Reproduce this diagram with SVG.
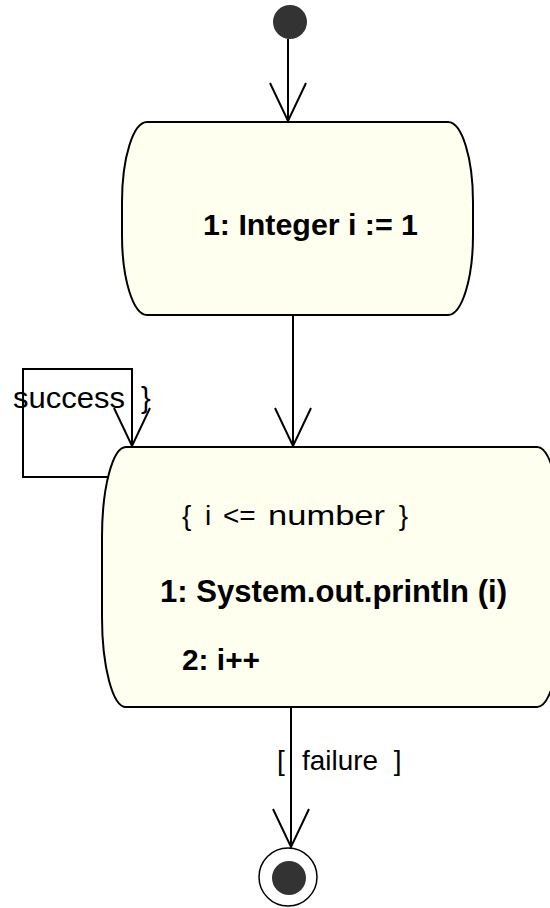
<svg xmlns="http://www.w3.org/2000/svg" width="550" height="908" viewBox="0 0 550 908">
<style>
.box{fill:#fffff0;stroke:#000;stroke-width:2}
.conn{fill:none;stroke:#000;stroke-width:2}
.b{font-family:"Liberation Sans",Arial,sans-serif;font-weight:bold;fill:#000}
.r{font-family:"Liberation Sans",Arial,sans-serif;fill:#000}
</style>
<defs>
<marker id="open" markerUnits="userSpaceOnUse" markerWidth="50" markerHeight="50" viewBox="-45 -25 50 50" refX="0" refY="0" orient="auto">
<path d="M-38,-18 L0,0 L-38,18" fill="none" stroke="#000" stroke-width="2"/>
</marker>
</defs>
<rect width="550" height="908" fill="#fff"/>
<g id="start">
<circle cx="290" cy="22" r="17" fill="#333"/>
</g>
<g id="action1">
<rect class="box" x="122" y="122" width="351" height="193" rx="25" ry="80"/>
<text class="b" x="203" y="235" font-size="30" textLength="215" lengthAdjust="spacingAndGlyphs">1: Integer i := 1</text>
</g>
<g id="action2">
<rect class="box" x="102" y="447" width="459" height="260" rx="24" ry="90"/>
<text class="r" y="525" font-size="28"><tspan x="182">{ </tspan><tspan x="205">i </tspan><tspan x="223">&lt;= </tspan><tspan x="268" textLength="117" lengthAdjust="spacingAndGlyphs">number</tspan><tspan x="391"> }</tspan></text>
<text class="b" x="160" y="602" font-size="31" textLength="347" lengthAdjust="spacingAndGlyphs">1: System.out.println (i)</text>
<text class="b" x="182" y="670" font-size="30" textLength="78" lengthAdjust="spacingAndGlyphs">2: i++</text>
</g>
<g id="end">
<circle cx="288" cy="877" r="29" fill="#fff" stroke="#000" stroke-width="1.5"/>
<circle cx="289" cy="878" r="17" fill="#333"/>
</g>
<g id="connectors">
<line class="conn" x1="288" y1="39" x2="288" y2="121" marker-end="url(#open)"/>
<line class="conn" x1="293" y1="315" x2="293" y2="446" marker-end="url(#open)"/>
<polyline class="conn" points="109,477 23,477 23,369 132,369 132,446" marker-end="url(#open)"/>
<line class="conn" x1="291" y1="707" x2="291" y2="847" marker-end="url(#open)"/>
<text class="r" y="408" font-size="29"><tspan x="13" textLength="112" lengthAdjust="spacingAndGlyphs">success</tspan><tspan x="133"> }</tspan></text>
<text class="r" y="770" font-size="28"><tspan x="277">[ </tspan><tspan x="302" textLength="76" lengthAdjust="spacingAndGlyphs">failure</tspan><tspan x="386"> ]</tspan></text>
</g>
</svg>
